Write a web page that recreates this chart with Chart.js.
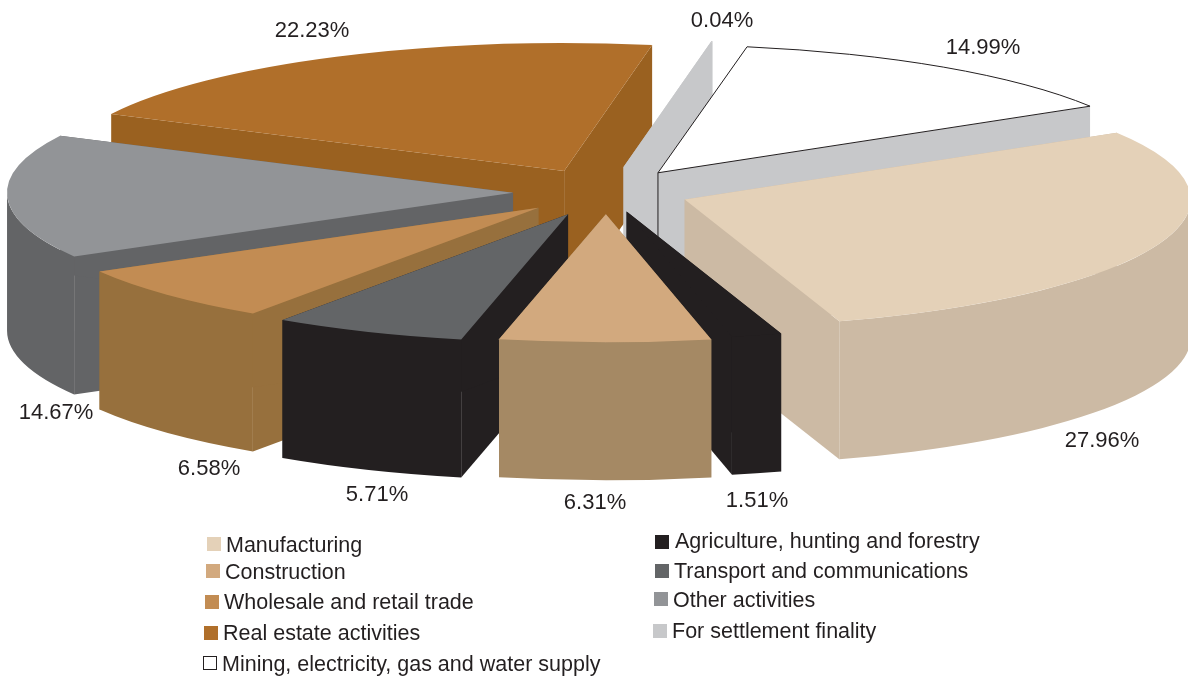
<!DOCTYPE html>
<html>
<head>
<meta charset="utf-8">
<style>
  html, body { margin: 0; padding: 0; background: #fff; }
  #wrap { width: 1188px; height: 677px; }
</style>
</head>
<body>
<div id="wrap"><canvas id="myChart" width="1188" height="677"></canvas></div>
<script src="https://cdn.jsdelivr.net/npm/chart.js@4"></script>
<script>
// clockwise from the right hand corner of Manufacturing
const categories = ['Manufacturing', 'Agriculture, hunting and forestry', 'Construction', 'Transport and communications',
    'Wholesale and retail trade', 'Other activities', 'Real estate activities', 'For settlement finality',
    'Mining, electricity, gas and water supply'];
const shares = [27.96, 1.51, 6.31, 5.71, 6.58, 14.67, 22.23, 0.04, 14.99];

const topColors = ['#e4d1b8', '#231f20', '#d2a97e', '#636567', '#c28c53', '#929497', '#b06f2a', '#c7c8ca', '#ffffff'];
const wallColors = ['#ccbaa4', '#231f20', '#a58964', '#231f20', '#97703d', '#636466', '#9a6120', '#c7c8ca', '#c7c8ca'];
const legendColors = ['#e4d1b8', '#231f20', '#d2a97e', '#636567', '#c28c53', '#929497', '#b06f2a', '#c7c8ca', '#ffffff'];

// look of the fake 3d
const centerX = 606, centerY = 192;
const radiusX = 506, radiusY = 128;
const depth = 138;
const warpCos = 0.101, warpSin = 0.026, warpSin2 = 0.018;
const explode = [84, 80, 88, 96, 92, 93, 93, 100, 92];
const drawOrder = [6, 7, 8, 5, 4, 3, 0, 1, 2];

// where the texts go, same order as categories
const pctPos = [[1102, 441], [757, 501], [595, 503], [377, 495], [209, 469], [56, 413], [312, 31], [722, 21], [983, 48]];
const legendPos = [[207, 537, 226, 552], [655, 535, 675, 548], [206, 564, 225, 579], [655, 564, 674, 578], [205, 595, 224, 609],
    [654, 592, 673, 607], [204, 626, 223, 640], [653, 624, 672, 638], [203, 656, 222, 671]];

const fontName = '"Liberation Sans", Arial, sans-serif';
const ctx = document.getElementById('myChart');

const tipOf = (arc, i) => {
    const mid = (arc.startAngle + arc.endAngle) / 2;
    return {
        x: centerX + explode[i] * Math.cos(mid),
        y: centerY + explode[i] * Math.sin(mid) * radiusY / radiusX
    };
};

const rimPoint = (tip, a) => ({ x: tip.x + radiusX * Math.cos(a), y: tip.y + radiusY * Math.sin(a) });

const sideWall = (c, tip, a) => {
    const p = rimPoint(tip, a);
    c.beginPath();
    c.moveTo(tip.x, tip.y);
    c.lineTo(p.x, p.y);
    c.lineTo(p.x, p.y + depth);
    c.lineTo(tip.x, tip.y + depth);
    c.closePath();
    c.fill();
};

const drawWalls = (c, arc, i, tip) => {
    c.fillStyle = wallColors[i];
    sideWall(c, tip, arc.startAngle);
    sideWall(c, tip, arc.endAngle);
    // only the part of the rim that faces us
    const a0 = Math.max(arc.startAngle, 0);
    const a1 = Math.min(arc.endAngle, Math.PI);
    if (a1 > a0) {
        c.beginPath();
        c.ellipse(tip.x, tip.y, radiusX, radiusY, 0, a0, a1);
        c.ellipse(tip.x, tip.y + depth, radiusX, radiusY, 0, a1, a0, true);
        c.closePath();
        c.fill();
    }
};

const drawTop = (c, arc, tip) => {
    c.save();
    c.translate(tip.x, tip.y);
    c.scale(radiusX / arc.outerRadius, radiusY / arc.outerRadius);
    c.translate(-arc.x, -arc.y);
    arc.draw(c);
    c.restore();
};

const warp = (a) => a - warpCos * Math.cos(a) - warpSin * Math.sin(a) + warpSin2 * Math.sin(2 * a);

const slices3d = {
    id: 'slices3d',
    afterDatasetsUpdate(chart) {
        // the tilted view squeezes the far side of the pie a bit
        chart.getDatasetMeta(0).data.forEach((arc) => {
            arc.startAngle = warp(arc.startAngle);
            arc.endAngle = warp(arc.endAngle);
        });
    },
    beforeDatasetsDraw(chart) {
        const c = chart.ctx;
        const arcs = chart.getDatasetMeta(0).data;
        drawOrder.forEach((i) => {
            const arc = arcs[i];
            const tip = tipOf(arc, i);
            drawWalls(c, arc, i, tip);
            drawTop(c, arc, tip);
            if (i === 8) {
                // the white slice has a thin outline
                const p0 = rimPoint(tip, arc.startAngle);
                c.save();
                c.strokeStyle = '#231f20';
                c.lineWidth = 1;
                c.beginPath();
                c.moveTo(tip.x, tip.y + depth);
                c.lineTo(tip.x, tip.y);
                c.lineTo(p0.x, p0.y);
                c.ellipse(tip.x, tip.y, radiusX, radiusY, 0, arc.startAngle, arc.endAngle);
                c.lineTo(tip.x, tip.y);
                c.stroke();
                c.restore();
            }
        });
        return false;
    },
    afterDraw(chart) {
        const c = chart.ctx;
        c.save();
        c.fillStyle = '#231f20';
        c.textBaseline = 'middle';
        c.textAlign = 'center';
        c.font = '22px ' + fontName;
        shares.forEach((v, i) => {
            c.fillText(v.toFixed(2) + '%', pctPos[i][0], pctPos[i][1]);
        });
        c.font = '21.5px ' + fontName;
        c.textBaseline = 'alphabetic';
        c.textAlign = 'left';
        categories.forEach((name, i) => {
            const [sx, sy, tx, ty] = legendPos[i];
            c.fillStyle = legendColors[i];
            c.fillRect(sx, sy, 14, 14);
            if (i === 8) {
                c.strokeStyle = '#231f20';
                c.lineWidth = 1;
                c.strokeRect(sx + 0.5, sy + 0.5, 13, 13);
            }
            c.fillStyle = '#231f20';
            c.fillText(name, tx, ty);
        });
        c.restore();
    }
};

new Chart(ctx, {
    type: 'pie',
    data: {
        labels: categories,
        datasets: [{
            data: shares,
            backgroundColor: topColors,
            borderWidth: 0
        }]
    },
    options: {
        responsive: false,
        animation: false,
        rotation: 64,
        layout: { padding: 0 },
        plugins: {
            legend: { display: false },
            tooltip: { enabled: false }
        }
    },
    plugins: [slices3d]
});
</script>
</body>
</html>
